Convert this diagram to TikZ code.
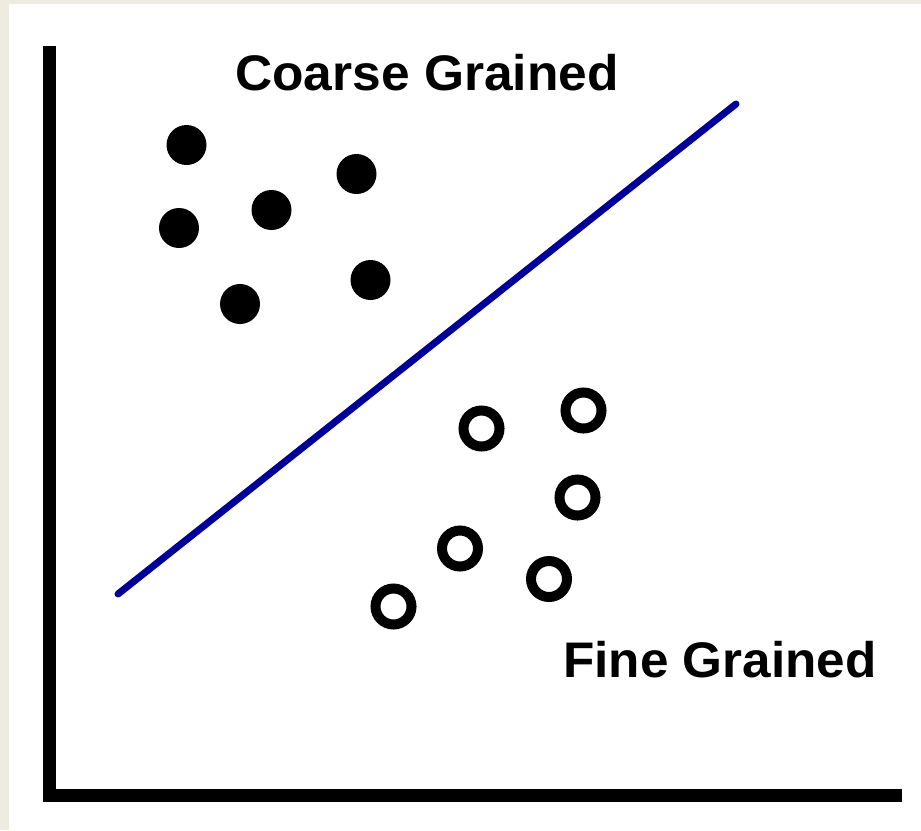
\documentclass[tikz,border=0pt]{standalone}
\usepackage{fontspec}
\usepackage{graphicx}
\setmainfont{Liberation Sans}
\definecolor{bgbeige}{HTML}{EEEBE0}
\definecolor{lineblue}{HTML}{000099}
\begin{document}
\begin{tikzpicture}[x=1pt,y=-1pt,
  dotfull/.style={circle,fill=black,inner sep=0pt,minimum size=40pt},
  dotopen/.style={circle,draw=black,line width=10pt,fill=white,inner sep=0pt,minimum size=36pt},
  axisline/.style={line width=13pt,line cap=butt,line join=miter},
  lbl/.style={font=\bfseries\fontsize{50}{60}\selectfont,inner sep=0pt,anchor=base west},
  sepline/.style={draw=lineblue,line width=7pt,line cap=round}]
\useasboundingbox (0,0) rectangle (921,830);
\fill[bgbeige] (0,0) rectangle (921,830);
\fill[white] (8.5,4) rectangle (921,830);
% axes
\coordinate (ytop) at (49.5,46);
\coordinate (orig) at (49.5,795.5);
\coordinate (xend) at (902,795.5);
\draw[axisline] (ytop) -- (orig) -- (xend);
% separating line
\coordinate (sa) at (118,594);
\coordinate (sb) at (736,104);
\draw[sepline] (sa) -- (sb);
% labels
\node[lbl] (coarse) at (235,90) {\scalebox{1.03}[1]{Coarse Grained}};
\node[lbl] (fine) at (563,677) {\scalebox{1.025}[1]{Fine Grained}};
% coarse dots
\node[dotfull] (f1) at (186.5,145) {};
\node[dotfull] (f2) at (179,228) {};
\node[dotfull] (f3) at (271.5,210) {};
\node[dotfull] (f4) at (356.5,174) {};
\node[dotfull] (f5) at (240,304) {};
\node[dotfull] (f6) at (370.5,280) {};
% fine circles
\node[dotopen] (o1) at (481.5,428.5) {};
\node[dotopen] (o2) at (583.5,410.5) {};
\node[dotopen] (o3) at (577.5,497.5) {};
\node[dotopen] (o4) at (460,548.5) {};
\node[dotopen] (o5) at (549,579) {};
\node[dotopen] (o6) at (393.5,606.5) {};
\end{tikzpicture}
\end{document}
